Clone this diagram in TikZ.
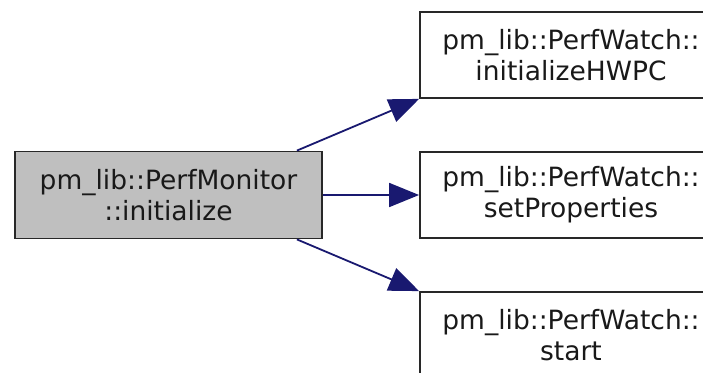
\documentclass[tikz,border=0pt]{standalone}
\usepackage{fontspec}
\setmainfont{DejaVu Sans}
\usetikzlibrary{arrows.meta}
\definecolor{edgeblue}{RGB}{25,25,112}
\definecolor{boxgray}{RGB}{191,191,191}
\definecolor{boxline}{RGB}{40,40,40}
\tikzset{
  func/.style={draw=boxline, line width=1.8pt, rectangle, inner sep=0pt,
    minimum width=302pt, minimum height=86pt, align=center,
    font=\fontsize{26.5}{31}\selectfont, text=black!90},
  caller/.style={func, fill=boxgray, minimum width=307pt, minimum height=87pt},
  callee/.style={func, fill=white},
  calls/.style={draw=edgeblue, line width=1.8pt,
    -{Triangle[length=30pt, width=24pt, fill=edgeblue]}},
}
\begin{document}
\begin{tikzpicture}[x=1pt, y=-1pt]
  \useasboundingbox (0,0) rectangle (703,372);
  \clip (0,0) rectangle (703,372);
  \fill[white] (0,0) rectangle (703,372);

  % the calling function
  \node[caller] (init) at (168.5,195) {pm\_lib::PerfMonitor\\::initialize};

  % the functions it calls
  \node[callee] (hwpc)  at (571,55)  {pm\_lib::PerfWatch::\\initializeHWPC};
  \node[callee] (props) at (571,195) {pm\_lib::PerfWatch::\\setProperties};
  \node[callee] (start) at (571,335) {pm\_lib::PerfWatch::\\start};

  % call edges
  \draw[calls] ([xshift=-26pt]init.north east) -- (hwpc.south west);
  \draw[calls] (init.east) -- (props.west);
  \draw[calls] ([xshift=-26pt]init.south east) -- (start.north west);
\end{tikzpicture}
\end{document}
